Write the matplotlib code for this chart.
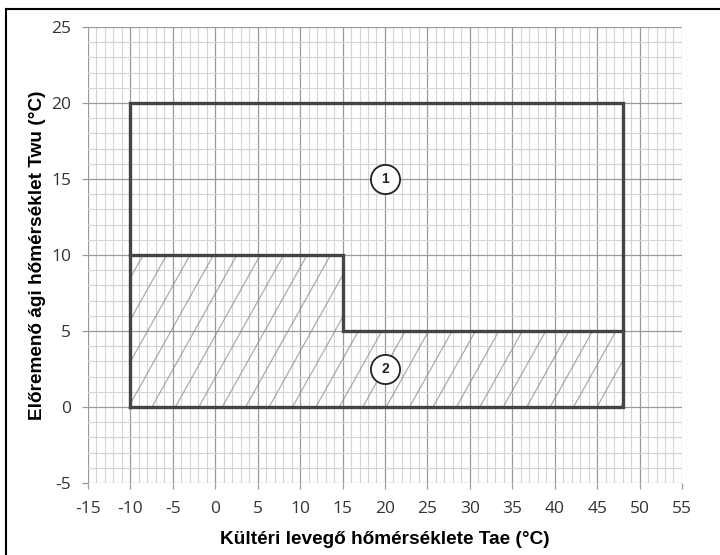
import numpy as np
import matplotlib
matplotlib.use("Agg")
import matplotlib.pyplot as plt
from matplotlib.patches import Polygon
from matplotlib.lines import Line2D

# operating envelope (outer boundary)
outer_x = [-10, -10, 48, 48, -10]
outer_y = [0, 20, 20, 0, 0]
# inner dividing line
inner_x = [-10, 15, 15, 48]
inner_y = [10, 10, 5, 5]
# hatched area (zone 2)
zone2_x = [-10, -10, 15, 15, 48, 48]
zone2_y = [0, 10, 10, 5, 5, 0]
# zone markers
zone_labels = ["1", "2"]
zone_x = [20, 20]
zone_y = [15, 2.5]

x_ticks = list(range(-15, 56, 5))
y_ticks = list(range(-5, 26, 5))

plt.rcParams["font.family"] = ["Liberation Sans", "DejaVu Sans"]
plt.rcParams["axes.unicode_minus"] = False

fig = plt.figure(figsize=(7.2, 5.55), dpi=100)
ax = fig.add_axes([0.1222, 0.1297, 0.825, 0.8216])

ax.set_xlim(-15, 55)
ax.set_ylim(-5, 25)
ax.set_xticks(x_ticks)
ax.set_yticks(y_ticks)
ax.set_xticks(np.arange(-15, 56, 1), minor=True)
ax.set_yticks(np.arange(-5, 26, 1), minor=True)
ax.grid(which="minor", color="#d4d4d4", linewidth=0.8)
ax.grid(which="major", color="#9a9a9a", linewidth=0.9)
ax.set_axisbelow(True)
for s in ax.spines.values():
    s.set_visible(False)
ax.tick_params(which="major", length=4, color="#9a9a9a", width=0.9,
               labelcolor="#333333")
ax.tick_params(axis="x", pad=9)
ax.tick_params(axis="y", pad=8)
ax.tick_params(which="minor", length=0)
for lab in ax.get_xticklabels() + ax.get_yticklabels():
    lab.set_family(["Open Sans", "DejaVu Sans"])
    lab.set_fontsize(12.5)

# hatching clipped to zone 2
zone2 = Polygon(list(zip(zone2_x, zone2_y)), closed=True, facecolor="none",
                edgecolor="none")
ax.add_patch(zone2)
for x0 in np.arange(-18.5, 48, 2.76):
    hl, = ax.plot([x0, x0 + 11], [0, 11], color="#8a8a8a", linewidth=0.9,
                  alpha=0.7, zorder=2)
    hl.set_clip_path(zone2)

ax.plot(outer_x, outer_y, color="#444444", linewidth=2.4,
        solid_joinstyle="miter", zorder=4)
ax.plot(inner_x, inner_y, color="#444444", linewidth=2.4,
        solid_joinstyle="miter", zorder=4)

ax.plot(zone_x, zone_y, "o", markersize=21, markerfacecolor="white",
        markeredgecolor="#222222", markeredgewidth=1.3, zorder=5)
for lab, zx, zy in zip(zone_labels, zone_x, zone_y):
    ax.text(zx, zy, lab, ha="center", va="center", fontsize=10,
            fontweight="bold", color="#222222", zorder=6)

ax.set_xlabel("Kültéri levegő hőmérséklete Tae (°C)", fontsize=13.7,
              fontweight="bold", labelpad=10)
ax.set_ylabel("Előremenő ági hőmérséklet Twu (°C)", fontsize=13.7,
              fontweight="bold", labelpad=4)

# frame lines (left and top)
fig.add_artist(Line2D([6 / 720, 6 / 720], [0, 1 - 9 / 555],
                      color="black", linewidth=1.5))
fig.add_artist(Line2D([6 / 720, 1], [1 - 9 / 555, 1 - 9 / 555],
                      color="black", linewidth=1.5))

fig.savefig("out.png", dpi=100)
